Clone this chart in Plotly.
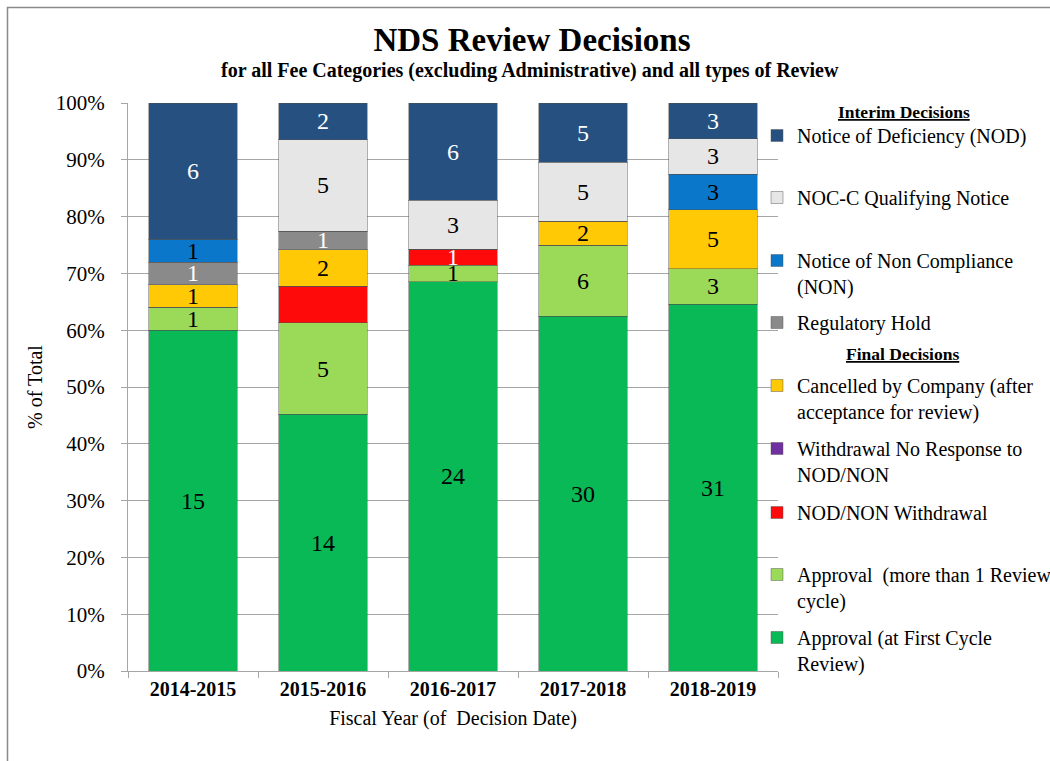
import plotly.graph_objects as go

# ---------------- data ----------------
years = ["2014-2015", "2015-2016", "2016-2017", "2017-2018", "2018-2019"]

approval_first = [15, 14, 24, 30, 31]
approval_more = [1, 5, 1, 6, 3]
nod_non_withdrawal = [0, 2, 1, 0, 0]
withdrawal_no_response = [0, 0, 0, 0, 0]
cancelled = [1, 2, 0, 2, 5]
regulatory_hold = [1, 1, 0, 0, 0]
non_notice = [1, 0, 0, 0, 3]
nocc_notice = [0, 5, 3, 5, 3]
nod_notice = [6, 2, 6, 5, 3]

# series drawn bottom -> top
series_names = [
    "Approval (at First Cycle<br>Review)",
    "Approval  (more than 1 Review<br>cycle)",
    "NOD/NON Withdrawal",
    "Withdrawal No Response to<br>NOD/NON",
    "Cancelled by Company (after<br>acceptance for review)",
    "Regulatory Hold",
    "Notice of Non Compliance<br>(NON)",
    "NOC-C Qualifying Notice",
    "Notice of Deficiency (NOD)",
]
series_values = [approval_first, approval_more, nod_non_withdrawal,
                 withdrawal_no_response, cancelled, regulatory_hold,
                 non_notice, nocc_notice, nod_notice]
series_colors = ["#08B955", "#9BDA58", "#FF0A0A", "#7030A0", "#FFC905",
                 "#8A8A8A", "#0A77CB", "#E6E6E6", "#25507F"]
label_colors = ["black", "black", "white", "black", "black",
                "white", "black", "black", "white"]
# data labels not shown in the original
hidden_labels = {(2, "2015-2016")}

# legend first-line centres (px) for each series, bottom series first
legend_centres = [638, 575, 513, 449, 386, 323, 261, 198, 136]

# ---------------- geometry helpers ----------------
W, H = 1050, 761
L, R, T, B = 128, 272, 103, 90
PW, PH = W - L - R, H - T - B


def px_x(px):
    return (px - L) / PW


def px_y(py):
    return (H - B - py) / PH


SERIF = "Liberation Serif, Times New Roman, serif"

fig = go.Figure()
layout_legends = {}
for i, (name, vals, col, lcol) in enumerate(zip(series_names, series_values,
                                                  series_colors, label_colors)):
    texts = []
    for y, v in zip(years, vals):
        if v == 0 or (i, y) in hidden_labels:
            texts.append("")
        else:
            texts.append(str(v))
    lg = "legend" if i == 0 else f"legend{i + 1}"
    fig.add_trace(go.Bar(
        x=years, y=vals, name=name,
        marker=dict(color=col, line=dict(color="rgba(80,80,80,0.45)", width=1)),
        text=texts, textposition="inside", insidetextanchor="middle",
        textangle=0, constraintext="none",
        textfont=dict(family=SERIF, size=24, color=lcol),
        legend=lg, hoverinfo="x+y+name",
    ))
    layout_legends[lg] = dict(
        x=px_x(757), y=px_y(legend_centres[i] - 20),
        xanchor="left", yanchor="top", xref="paper", yref="paper",
        bgcolor="rgba(0,0,0,0)", borderwidth=0, valign="top",
        font=dict(family=SERIF, size=20, color="black"),
    )

fig.update_layout(
    width=W, height=H, autosize=False,
    margin=dict(l=L, r=R, t=T, b=B, autoexpand=False),
    paper_bgcolor="white", plot_bgcolor="white",
    barmode="stack", barnorm="fraction", bargap=0.32,
    showlegend=True,
    font=dict(family=SERIF, color="black"),
    title=dict(text="<b>NDS Review Decisions</b>", x=532 / W, xanchor="center",
               y=1 - 39 / H, yanchor="middle",
               font=dict(family=SERIF, size=33, color="black")),
    **layout_legends,
)

fig.update_xaxes(
    automargin=False,
    showline=True, linecolor="#A6A6A6", linewidth=1,
    ticks="outside", tickson="boundaries", ticklen=6, tickcolor="#A6A6A6",
    tickfont=dict(family=SERIF, size=20, color="black", weight="bold"),
    title=dict(text="Fiscal Year (of  Decision Date)", standoff=11,
               font=dict(family=SERIF, size=20, color="black")),
)
fig.update_yaxes(
    automargin=False,
    range=[0, 1], dtick=0.1, tickformat=".0%",
    showline=True, linecolor="#A6A6A6", linewidth=1,
    ticks="outside", ticklen=6, tickcolor="#A6A6A6", ticklabelstandoff=12,
    showgrid=True, gridcolor="#A6A6A6", gridwidth=1, zeroline=False,
    tickfont=dict(family=SERIF, size=21, color="black"),
    title=dict(text="% of Total", standoff=7,
               font=dict(family=SERIF, size=20, color="black")),
)

fig.add_annotation(
    text="<b>for all Fee Categories (excluding Administrative) and all types of Review</b>",
    xref="paper", yref="paper", x=px_x(530), y=px_y(70),
    xanchor="center", yanchor="middle", showarrow=False,
    font=dict(family=SERIF, size=20, color="black"),
)
fig.add_annotation(
    text="<b><u>Interim Decisions</u></b>", xref="paper", yref="paper",
    x=px_x(904), y=px_y(112), xanchor="center", yanchor="middle",
    showarrow=False, font=dict(family=SERIF, size=17.5, color="black"),
)
fig.add_annotation(
    text="<b><u>Final Decisions</u></b>", xref="paper", yref="paper",
    x=px_x(902), y=px_y(354), xanchor="center", yanchor="middle",
    showarrow=False, font=dict(family=SERIF, size=17.5, color="black"),
)

# outer chart frame
fig.add_shape(type="rect", xref="paper", yref="paper",
              x0=px_x(7.5), x1=px_x(1065), y0=px_y(780), y1=px_y(7.5),
              line=dict(color="#8A8A8A", width=1.5), fillcolor="rgba(0,0,0,0)",
              layer="below")

fig.write_html("out.html", config={"displayModeBar": False},
               post_script="document.body.style.margin='0px';")
